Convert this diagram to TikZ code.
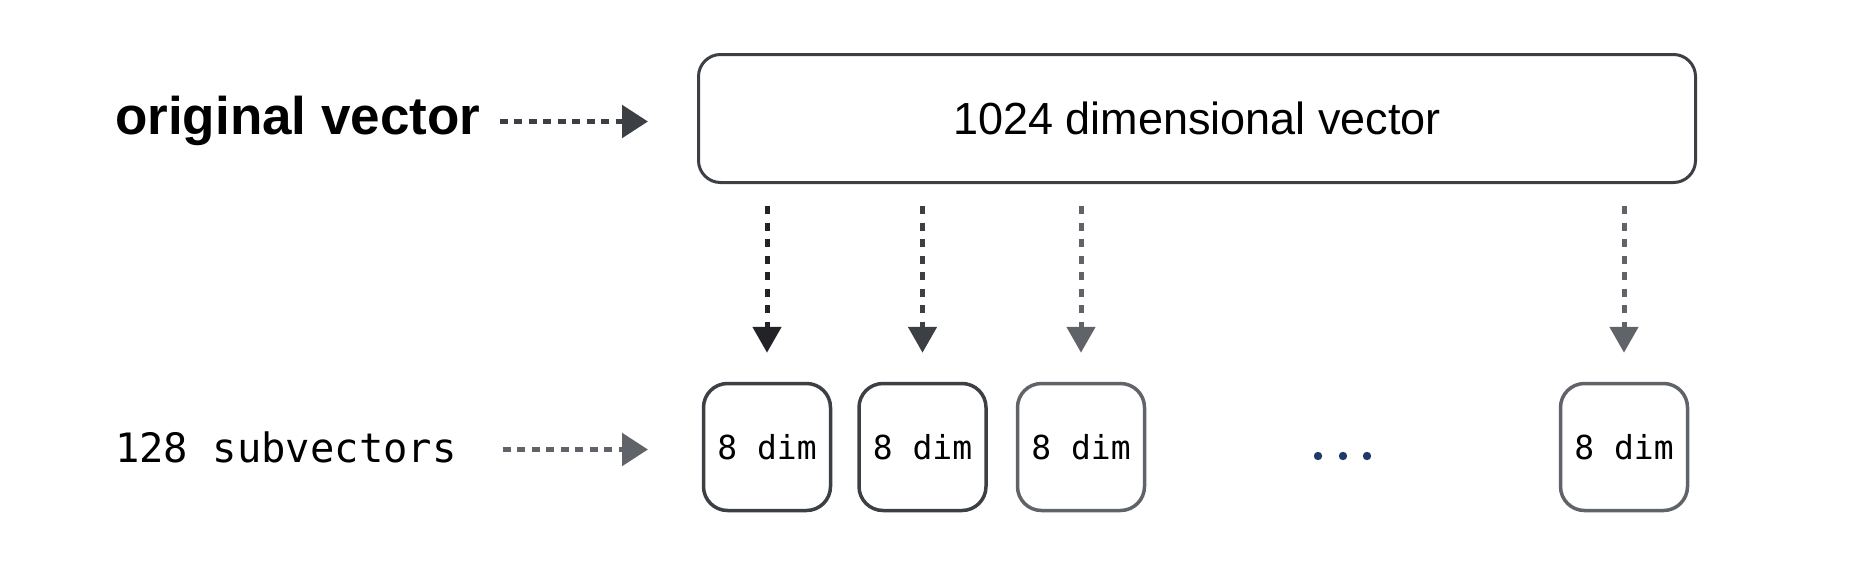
\documentclass[tikz,border=0pt]{standalone}
\usepackage{fontspec}
\setmainfont{Liberation Sans}
\setmonofont{DejaVu Sans Mono}
\usepackage{tikz}
\usetikzlibrary{arrows, arrows.meta, positioning}

\definecolor{inkA}{HTML}{222326}
\definecolor{inkB}{HTML}{3C3F44}
\definecolor{inkC}{HTML}{606468}
\definecolor{dotblue}{HTML}{1F3A68}

\tikzset{
  bigbox/.style={draw=inkB, line width=3pt, rounded corners=22pt,
    minimum width=997pt, minimum height=128pt, inner sep=0pt,
    font=\fontsize{45}{49}\selectfont},
  subbox/.style={draw=#1, line width=3.5pt, rounded corners=24pt,
    minimum width=127pt, minimum height=127pt, inner sep=0pt,
    font=\ttfamily\fontsize{33}{36}\selectfont},
  downflow/.style={draw=#1, line width=5pt, dash pattern=on 8pt off 8.5pt,
    -{Triangle[length=26pt, width=28pt, fill=#1]},
    shorten <=22pt, shorten >=29pt},
  sideflow/.style={draw=#1, line width=5.5pt, dash pattern=on 8pt off 6.5pt,
    -{Triangle[length=26pt, width=32pt, fill=#1]}}
}

\begin{document}
\begin{tikzpicture}[x=1pt, y=-1pt, node distance=25pt]
  \useasboundingbox (0,0) rectangle (1850,560);

  % top row
  \node (orig) [anchor=base west, inner sep=0pt,
    font=\bfseries\fontsize{53}{57}\selectfont] at (115,134) {original vector};
  \node (vec) [bigbox] at (1197,118.5) {1024 dimensional vector};
  \coordinate (origend) at (648,121.5);
  \draw[sideflow=inkB, shorten <=19pt] (orig.east |- origend) -- (origend);

  % bottom row
  \node (subs) [anchor=base west, inner sep=0pt,
    font=\ttfamily\fontsize{40.5}{44}\selectfont] at (115,462) {128 subvectors};
  \node (s1) [subbox=inkB] at (767,447) {8 dim};
  \node (s2) [subbox=inkB, right=of s1] {8 dim};
  \node (s3) [subbox=inkC, right=28pt of s2] {8 dim};
  \node (s4) [subbox=inkC] at (1624,447) {8 dim};
  \coordinate (subsend) at (648,449.5);
  \draw[sideflow=inkC, shorten <=46pt] (subs.east |- subsend) -- (subsend);

  % dots
  \foreach \dx in {1318,1343,1367}
    \fill[dotblue] (\dx,456) circle (4.2pt);

  % splits
  \draw[downflow=inkA] (vec.south -| s1.north) -- (s1.north);
  \draw[downflow=inkB] (vec.south -| s2.north) -- (s2.north);
  \draw[downflow=inkC] (vec.south -| s3.north) -- (s3.north);
  \draw[downflow=inkC] (vec.south -| s4.north) -- (s4.north);
\end{tikzpicture}
\end{document}
